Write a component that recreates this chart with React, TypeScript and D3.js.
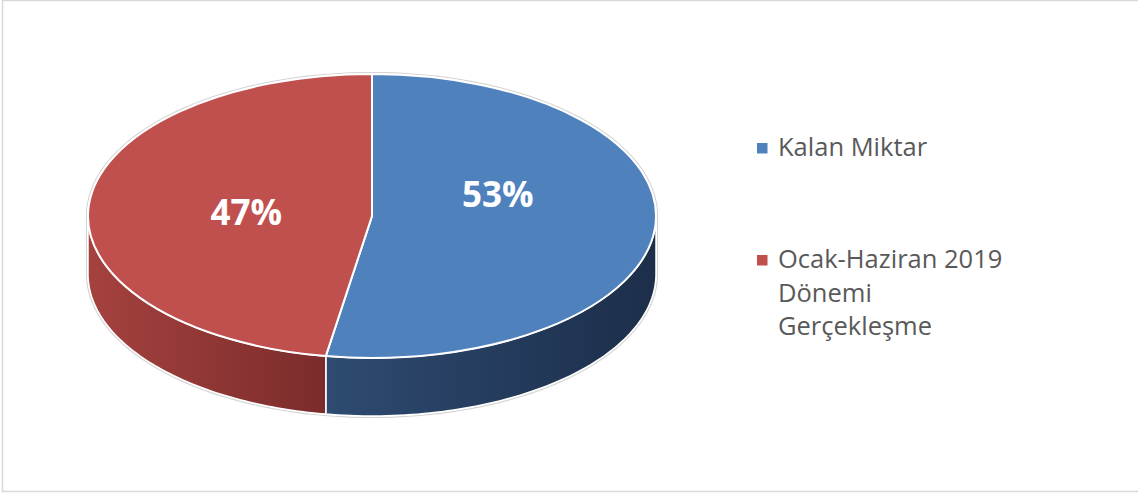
import React from 'react';
import * as d3 from 'd3';

const categories = ['Kalan Miktar', 'Ocak-Haziran 2019 Dönemi Gerçekleşme'];
const values = [52.6, 47.4];
const legendLines = [['Kalan Miktar'], ['Ocak-Haziran 2019', 'Dönemi', 'Gerçekleşme']];
const topColors = ['#4f81bd', '#c0504d'];
const sideColors = [
  ['#2e4b71', '#1c2e4a'],
  ['#a5423f', '#7a2c2b'],
];

const W = 1138;
const H = 496;

const App: React.FC = () => {
  const cx = 372;
  const cy = 216;
  const rx = 284;
  const ry = 142;
  const depth = 58;
  const fmt = d3.format('.0%');
  const total = d3.sum(values);

  const pie = d3
    .pie<number>()
    .sort(null)
    .value((d) => d);
  const arcs = pie(values);

  const arc = d3.arc<d3.PieArcDatum<number>>().innerRadius(0).outerRadius(rx);

  const pt = (a: number, dy = 0): [number, number] => [
    cx + rx * Math.sin(a),
    cy - ry * Math.cos(a) + dy,
  ];
  const line = d3.line();

  // front wall of each slice (only the part facing the viewer)
  const sidePath = (a0: number, a1: number) => {
    const s = Math.max(a0, Math.PI / 2);
    const e = Math.min(a1, (3 * Math.PI) / 2);
    if (e <= s) return null;
    const steps = d3.range(0, 81).map((i) => s + ((e - s) * i) / 80);
    const top = steps.map((a) => pt(a));
    const bottom = steps.slice().reverse().map((a) => pt(a, depth));
    return line([...top, ...bottom]) + 'Z';
  };

  const outline = (() => {
    const back = d3.range(0, 81).map((i) => {
      const a = -Math.PI / 2 + (Math.PI * i) / 80;
      return [cx + (rx + 1.5) * Math.sin(a), cy - (ry + 1.5) * Math.cos(a)] as [number, number];
    });
    const front = d3.range(0, 81).map((i) => {
      const a = Math.PI / 2 + (Math.PI * i) / 80;
      return [cx + (rx + 1.5) * Math.sin(a), cy - (ry + 1.5) * Math.cos(a) + depth] as [number, number];
    });
    return line([...back, ...front]) + 'Z';
  })();

  // Excel lifts the label of the right slice a bit
  const labelLift = [-27, 2];
  const labelRadius = 0.444;

  return (
    <svg
      width={W}
      height={H}
      style={{ position: 'absolute', left: 0, top: 0, fontFamily: '"Open Sans", sans-serif' }}
    >
      <defs>
        {arcs.map((d, i) => {
          const s = Math.max(d.startAngle, Math.PI / 2);
          const e = Math.min(d.endAngle, (3 * Math.PI) / 2);
          const x0 = Math.min(pt(s)[0], pt(e)[0]);
          const x1 = Math.max(pt(s)[0], pt(e)[0]);
          return (
            <linearGradient
              key={i}
              id={`side-${i}`}
              gradientUnits="userSpaceOnUse"
              x1={x0}
              x2={x1}
              y1={0}
              y2={0}
            >
              <stop offset="0%" stopColor={sideColors[i][0]} />
              <stop offset="100%" stopColor={sideColors[i][1]} />
            </linearGradient>
          );
        })}
      </defs>
      <rect x={2.5} y={0.5} width={W + 10} height={491} fill="#fff" stroke="#d9d9d9" strokeWidth={1.5} />

      <path d={outline} fill="none" stroke="#d4d4d4" strokeWidth={1.2} />

      {arcs.map((d, i) => {
        const p = sidePath(d.startAngle, d.endAngle);
        return p ? (
          <path key={`s${i}`} d={p} fill={`url(#side-${i})`} stroke="#fff" strokeWidth={1.5} />
        ) : null;
      })}

      <g transform={`translate(${cx},${cy}) scale(1,${ry / rx})`}>
        {arcs.map((d, i) => (
          <path
            key={`t${i}`}
            d={arc(d) as string}
            fill={topColors[i]}
            stroke="#fff"
            strokeWidth={2}
            vectorEffect="non-scaling-stroke"
          />
        ))}
      </g>

      {arcs.map((d, i) => {
        const mid = (d.startAngle + d.endAngle) / 2;
        const x = cx + rx * labelRadius * Math.sin(mid);
        const y = cy - ry * labelRadius * Math.cos(mid) + labelLift[i];
        return (
          <text
            key={`l${i}`}
            x={x}
            y={y + 12.5}
            textAnchor="middle"
            fontSize={35}
            fontWeight={700}
            fill="#fff"
          >
            {fmt(d.value / total)}
          </text>
        );
      })}

      {categories.map((c, i) => {
        const baseY = [156, 268][i];
        return (
          <g key={c}>
            <rect x={757} y={baseY - 13} width={10.5} height={10.5} fill={topColors[i]} />
            {legendLines[i].map((t, j) => (
              <text key={j} x={778} y={baseY + j * 33.5} fontSize={25.5} fill="#595959">
                {t}
              </text>
            ))}
          </g>
        );
      })}
    </svg>
  );
};

export default App;
